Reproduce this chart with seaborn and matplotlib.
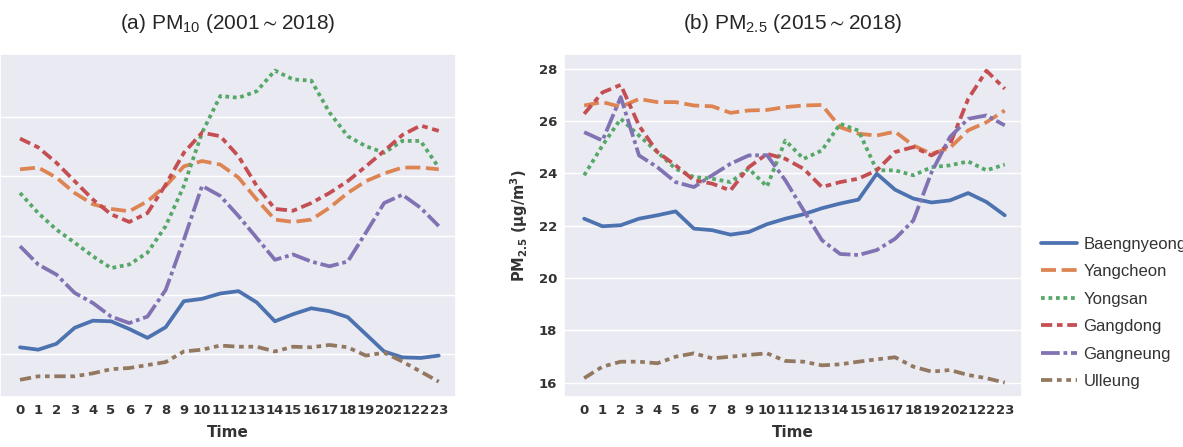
import pandas as pd
import seaborn as sns
import matplotlib.pyplot as plt

FIGSIZE = (11.83, 4.47)  # 1183 x 447 px at dpi 100

horas = list(range(24))
horas_grade = [0, 5, 10, 15, 20]
estacoes = ["Baengnyeong", "Yangcheon", "Yongsan", "Gangdong", "Gangneung", "Ulleung"]

# (a) PM10, 2001~2018 (y axis labels are cut off in the original)
pm10_baengnyeong = [31.1, 30.7, 31.7, 34.4, 35.6, 35.5, 34.2, 32.7, 34.5, 38.9, 39.3, 40.2,
                    40.6, 38.7, 35.5, 36.7, 37.7, 37.2, 36.2, 33.3, 30.4, 29.4, 29.3, 29.7]
pm10_yangcheon = [61.2, 61.5, 59.8, 57.2, 55.3, 54.5, 54.1, 55.8, 58.4, 61.7, 62.6, 62.0,
                  59.8, 56.1, 52.7, 52.3, 52.7, 54.7, 57.2, 59.2, 60.5, 61.5, 61.5, 61.2]
pm10_yongsan = [57.2, 53.8, 51.0, 48.8, 46.5, 44.5, 45.1, 47.1, 51.6, 58.4, 67.4, 73.6,
                73.3, 74.4, 77.9, 76.4, 76.2, 70.8, 66.8, 65.1, 64.0, 66.0, 66.0, 61.5]
pm10_gangdong = [66.4, 64.9, 62.3, 59.2, 56.1, 53.6, 52.3, 53.8, 58.6, 64.0, 67.4, 66.8,
                 63.4, 58.4, 54.5, 54.2, 55.5, 57.2, 59.2, 61.7, 64.3, 67.0, 68.6, 67.7]
pm10_gangneung = [48.2, 45.1, 43.4, 40.3, 38.6, 36.3, 35.2, 36.3, 40.8, 49.3, 58.4, 56.7,
                  53.3, 49.6, 45.9, 46.8, 45.6, 44.8, 45.6, 50.5, 55.5, 56.9, 54.7, 51.6]
pm10_ulleung = [25.6, 26.2, 26.2, 26.2, 26.7, 27.4, 27.6, 28.1, 28.6, 30.4, 30.7, 31.4,
                31.2, 31.2, 30.4, 31.2, 31.1, 31.5, 31.1, 29.7, 30.2, 28.7, 27.0, 25.3]

# (b) PM2.5, 2015~2018
pm25_baengnyeong = [22.27, 21.98, 22.02, 22.27, 22.40, 22.55, 21.89, 21.83, 21.66, 21.76, 22.06, 22.27,
                    22.44, 22.67, 22.85, 23.00, 23.99, 23.38, 23.04, 22.89, 22.97, 23.25, 22.91, 22.40]
pm25_yangcheon = [26.60, 26.73, 26.55, 26.85, 26.73, 26.73, 26.60, 26.57, 26.32, 26.41, 26.43, 26.54,
                  26.60, 26.62, 25.77, 25.52, 25.45, 25.60, 25.07, 24.75, 24.98, 25.65, 25.96, 26.41]
pm25_yongsan = [23.93, 25.07, 26.09, 25.45, 24.82, 24.18, 23.86, 23.80, 23.67, 24.18, 23.50, 25.26,
                24.56, 24.88, 25.90, 25.64, 24.12, 24.12, 23.93, 24.24, 24.31, 24.46, 24.12, 24.34]
pm25_gangdong = [26.28, 27.10, 27.39, 25.83, 24.82, 24.31, 23.74, 23.61, 23.35, 24.24, 24.75, 24.56,
                 24.18, 23.48, 23.67, 23.80, 24.12, 24.82, 25.01, 24.69, 25.10, 26.85, 27.93, 27.24]
pm25_gangneung = [25.58, 25.26, 26.92, 24.69, 24.24, 23.67, 23.48, 23.93, 24.37, 24.69, 24.70, 23.74,
                  22.59, 21.45, 20.92, 20.88, 21.07, 21.50, 22.20, 24.05, 25.39, 26.09, 26.22, 25.84]
pm25_ulleung = [16.17, 16.61, 16.80, 16.80, 16.74, 16.99, 17.12, 16.93, 16.99, 17.06, 17.12, 16.83,
                16.80, 16.66, 16.70, 16.80, 16.89, 16.97, 16.61, 16.42, 16.48, 16.29, 16.17, 16.00]

dados_pm10 = pd.DataFrame(dict(zip(estacoes, [pm10_baengnyeong, pm10_yangcheon, pm10_yongsan,
                                                pm10_gangdong, pm10_gangneung, pm10_ulleung])),
                          index=horas)
dados_pm25 = pd.DataFrame(dict(zip(estacoes, [pm25_baengnyeong, pm25_yangcheon, pm25_yongsan,
                                                pm25_gangdong, pm25_gangneung, pm25_ulleung])),
                          index=horas)

sns.set_theme(style="darkgrid", palette="deep")
plt.rcParams["font.family"] = ["DejaVu Sans"]
plt.rcParams["mathtext.default"] = "regular"

fig = plt.figure(figsize=FIGSIZE, dpi=100)
ax1 = fig.add_axes([0.0, 0.1119, 0.3855, 0.7673])
ax2 = fig.add_axes([0.4768, 0.1119, 0.3872, 0.7673])

sns.lineplot(data=dados_pm10, ax=ax1, linewidth=2.7, legend=False)
sns.lineplot(data=dados_pm25, ax=ax2, linewidth=2.7)

ax1.set_title("(a) PM$_{10}$ (2001${\\sim}$2018)", family="Liberation Sans", fontsize=15, pad=18)
ax2.set_title("(b) PM$_{2.5}$ (2015${\\sim}$2018)", family="Liberation Sans", fontsize=15, pad=18)

for ax in (ax1, ax2):
    ax.set_xlim(-1.1, 23.95)
    ax.set_xticks(horas)
    ax.set_xticklabels([str(h) for h in horas], fontweight="bold", fontsize=9.5, color="#333333")
    ax.set_xticks(horas_grade, minor=True)
    ax.grid(False, axis="x", which="major")
    ax.grid(True, axis="x", which="minor", color="white", linewidth=1)
    ax.set_xlabel("Time", fontweight="bold", fontsize=11, color="#333333", labelpad=6)
    ax.tick_params(axis="both", which="both", length=0, pad=5)

ax1.set_ylim(22.7, 80.7)
ax1.set_yticks([30, 40, 50, 60, 70])
ax1.set_yticklabels([])
ax1.set_ylabel("")

ax2.set_ylim(15.45, 28.57)
ax2.set_yticks([16, 18, 20, 22, 24, 26, 28])
ax2.set_yticklabels([str(v) for v in [16, 18, 20, 22, 24, 26, 28]],
                    fontweight="bold", fontsize=9.5, color="#333333")
ax2.set_ylabel("PM$_{2.5}$ ($\\mu$g/m$^{3}$)", fontweight="bold", fontsize=10.5,
               color="#333333", labelpad=6)

leg = ax2.legend(loc="center left", bbox_to_anchor=(1.008, 0.245), frameon=False,
                 handlelength=2.15, handletextpad=0.42, labelspacing=0.75,
                 prop={"family": "Liberation Sans", "size": 12})
for t in leg.get_texts():
    t.set_color("#333333")

plt.savefig("out.png", dpi=100)
